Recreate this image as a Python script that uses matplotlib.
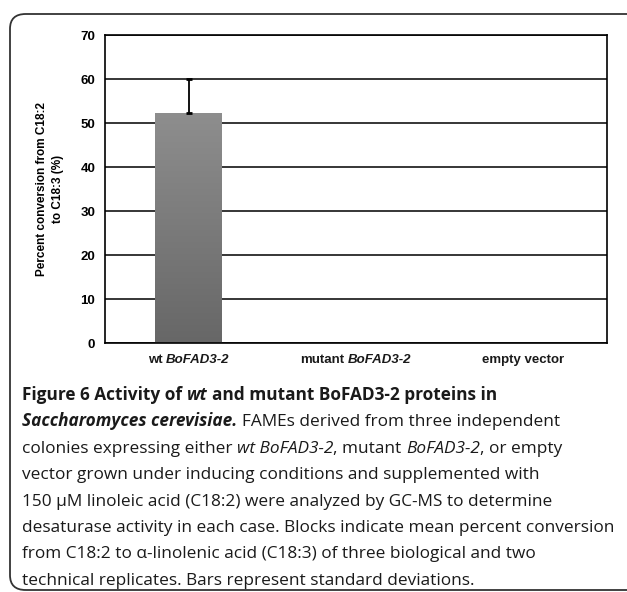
import numpy as np
import matplotlib
matplotlib.use("Agg")
import matplotlib.pyplot as plt
from matplotlib.patches import FancyBboxPatch
from matplotlib.colors import LinearSegmentedColormap

# data
categories = ["wt", "mutant", "empty vector"]
gene_part = ["BoFAD3-2", "BoFAD3-2", ""]
conversion = [52.3, 0, 0]
std_dev = [7.7, 0, 0]
yticks = [0, 10, 20, 30, 40, 50, 60, 70]

W, H = 627, 592
fig = plt.figure(figsize=(W / 100, H / 100), dpi=100)

# rounded frame around the figure panel
frame = FancyBboxPatch((10 / W, 2 / H), 640 / W, (H - 16) / H,
                       boxstyle="round,pad=0,rounding_size=0.025",
                       transform=fig.transFigure, fill=False,
                       edgecolor="#333333", linewidth=1.3)
fig.patches.append(frame)

ax = fig.add_axes([105 / W, 1 - 343 / H, (607 - 105) / W, (343 - 35) / H])
x = np.arange(len(categories))
bars = ax.bar(x, conversion, width=0.4, color="#7a7a7a", zorder=2)
ax.errorbar(x[:1], conversion[:1], yerr=[[0], std_dev[:1]], fmt="none",
            ecolor="black", elinewidth=1.3, capsize=2, capthick=2, zorder=3)

# gradient fill on the bar
grad = np.linspace(0, 1, 256).reshape(-1, 1)
cmap = LinearSegmentedColormap.from_list("g", ["#676767", "#8e8e8e"])
for b in bars:
    if b.get_height() <= 0:
        continue
    bx, bw, bh = b.get_x(), b.get_width(), b.get_height()
    im = ax.imshow(grad, extent=[bx, bx + bw, 0, bh], origin="lower",
                   cmap=cmap, aspect="auto", zorder=2)
    im.set_clip_path(b)

ax.set_xlim(-0.5, 2.5)
ax.set_ylim(0, 70)
ax.set_yticks(yticks)
ax.set_xticks([])
ax.yaxis.grid(True, color="black", linewidth=1.1, zorder=1)
ax.set_axisbelow(True)
for s in ax.spines.values():
    s.set_linewidth(1.2)
ax.tick_params(axis="both", length=0, pad=7)
for t in ax.get_yticklabels():
    t.set_fontfamily("Liberation Sans")
    t.set_fontweight("bold")
    t.set_fontsize(9.5)

rend = fig.canvas.get_renderer()


def draw_segments(segs, x0, y0, size, family, center=False):
    # segs: list of (text, weight, style)
    sp = fig.text(0, 0, "a a", fontsize=size, family=family)
    sp2 = fig.text(0, 0, "aa", fontsize=size, family=family)
    space = (sp.get_window_extent(rend).width - sp2.get_window_extent(rend).width) / W
    sp.remove()
    sp2.remove()
    pieces = []
    total = 0
    for txt, wt, st in segs:
        lead = len(txt) - len(txt.lstrip(" "))
        trail = len(txt) - len(txt.rstrip(" "))
        core = txt.strip(" ")
        t = fig.text(0, y0, core, fontsize=size, family=family, weight=wt,
                     style=st, va="baseline", color="#1a1a1a")
        w = t.get_window_extent(rend).width / W
        pieces.append((t, lead * space, w, trail * space))
        total += lead * space + w + trail * space
    xx = x0 - total / 2 if center else x0
    for t, l, w, r in pieces:
        xx += l
        t.set_x(xx)
        xx += w + r


# category labels, gene names in italics
lab_y = 1 - 363 / H
centers = [ax.transData.transform((xi, 0))[0] / W for xi in x]
for cx, c, g in zip(centers, categories, gene_part):
    segs = [(c, "bold", "normal")]
    if g:
        segs.append((" " + g, "bold", "italic"))
    draw_segments(segs, cx, lab_y, 9.5, ["Liberation Sans"], center=True)

fig.text(50 / W, 1 - 189 / H, "Percent conversion from C18:2\nto C18:3 (%)",
         rotation=90, ha="center", va="center", fontsize=8.5,
         family="Liberation Sans", weight="bold", linespacing=1.5,
         multialignment="center")

# caption
cap_font = ["Open Sans"]
cap_size = 12.4
cap_lines = [
    [("Figure 6 Activity of ", "bold", "normal"), ("wt", "bold", "italic"),
     (" and mutant BoFAD3-2 proteins in", "bold", "normal")],
    [("Saccharomyces cerevisiae.", "bold", "italic"),
     (" FAMEs derived from three independent", "normal", "normal")],
    [("colonies expressing either ", "normal", "normal"),
     ("wt BoFAD3-2", "normal", "italic"), (", mutant ", "normal", "normal"),
     ("BoFAD3-2", "normal", "italic"), (", or empty", "normal", "normal")],
    [("vector grown under inducing conditions and supplemented with", "normal", "normal")],
    [("150 \u00b5M linoleic acid (C18:2) were analyzed by GC-MS to determine", "normal", "normal")],
    [("desaturase activity in each case. Blocks indicate mean percent conversion", "normal", "normal")],
    [("from C18:2 to \u03b1-linolenic acid (C18:3) of three biological and two", "normal", "normal")],
    [("technical replicates. Bars represent standard deviations.", "normal", "normal")],
]
for i, segs in enumerate(cap_lines):
    yb = 1 - (400 + i * 26.4) / H
    draw_segments(segs, 22 / W, yb, cap_size, cap_font)

fig.savefig("out.png", dpi=100)
